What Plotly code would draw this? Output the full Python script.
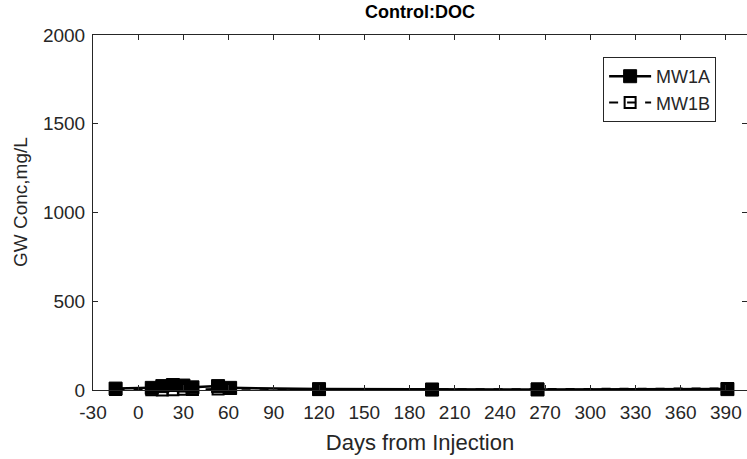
import plotly.graph_objects as go

days_a = [-15, 9, 16, 23, 30, 36, 53, 61, 120, 195, 265, 391]
conc_a = [8, 12, 22, 28, 25, 15, 22, 12, 5, 3, 3, 5]
days_b = [-15, 9, 16, 23, 30, 36, 53, 61, 120, 195, 265, 391]
conc_b = [3, 2, 0, 1, 4, 3, 6, 8, 3, 2, 5, 9]

x_ticks = list(range(-30, 391, 30))
x_ticktext = [str(v) for v in x_ticks]
y_ticks = [0, 500, 1000, 1500, 2000]

FONT = "Liberation Sans, Arial"
AX = "#262626"

fig = go.Figure()
fig.add_trace(go.Scatter(
    x=days_a, y=conc_a, name="MW1A", mode="lines+markers", legendgroup="a",
    line=dict(color="black", width=2.5), cliponaxis=False,
    marker=dict(symbol="square", size=13, color="black", line=dict(color="black", width=1)),
))
fig.add_trace(go.Scatter(
    x=days_b, y=conc_b, name="MW1B", mode="lines+markers", legendgroup="b",
    line=dict(color="black", width=2, dash="dash"), cliponaxis=False,
    marker=dict(symbol="square", size=11, color="rgba(0,0,0,0)", line=dict(color="black", width=2)),
))

axis_common = dict(
    showline=True, linecolor=AX, linewidth=1, mirror="ticks",
    ticks="inside", ticklen=5, tickcolor=AX, showgrid=False, zeroline=False,
    tickfont=dict(family=FONT, size=19, color=AX),
)
fig.update_layout(
    width=747, height=459,
    margin=dict(l=93, r=0, t=35, b=69),
    paper_bgcolor="white", plot_bgcolor="white",
    title=dict(text="<b>Control:DOC</b>", x=0.5, xanchor="center", xref="paper",
               y=0.974, yanchor="middle",
               font=dict(family=FONT, size=18, color="black")),
    xaxis=dict(range=[-30, 404], tickvals=x_ticks, ticktext=x_ticktext,
               ticklabelstandoff=5, ticklabeloverflow="allow",
               title=dict(text="Days from Injection", standoff=12,
                          font=dict(family=FONT, size=22, color=AX)),
               **axis_common),
    yaxis=dict(range=[0, 2000], tickvals=y_ticks, ticklabelstandoff=3,
               **axis_common),
    legend=dict(x=0.78, y=0.938, xanchor="left", yanchor="top",
                bgcolor="white", bordercolor=AX, borderwidth=1,
                font=dict(family=FONT, size=18, color=AX),
                itemwidth=42, tracegroupgap=0),
    showlegend=True,
)
fig.add_annotation(
    text="GW Conc,mg/L", textangle=-90, showarrow=False,
    xref="paper", yref="paper", x=(20 - 93) / 654, y=(390 - 202) / 355,
    xanchor="center", yanchor="middle",
    font=dict(family=FONT, size=19, color=AX),
)
fig.write_html("out.html")
